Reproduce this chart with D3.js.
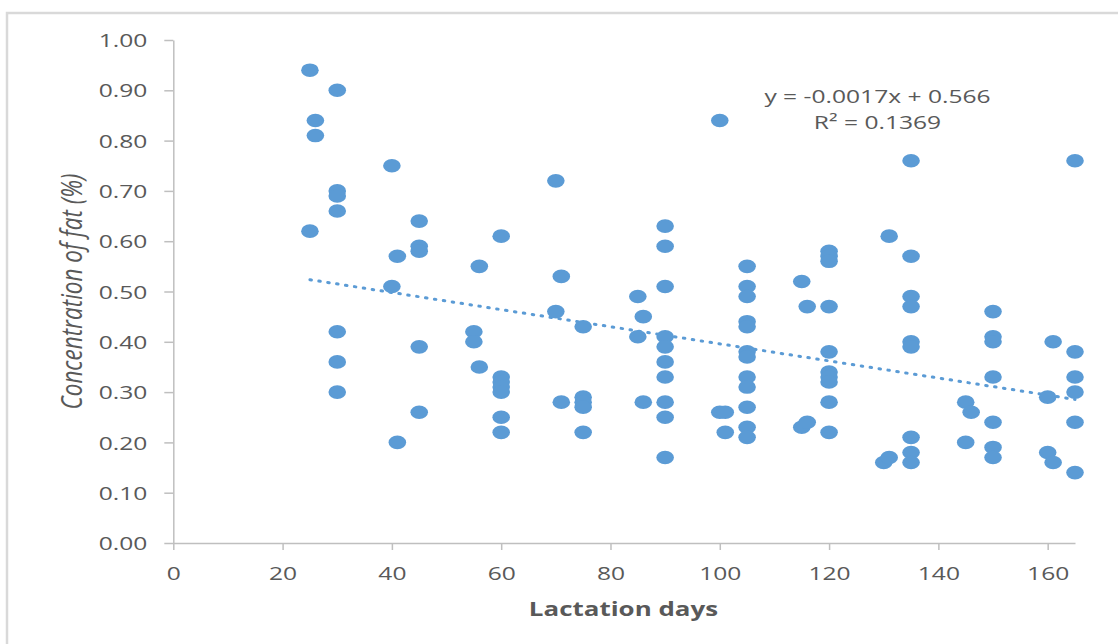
<!DOCTYPE html>
<html>
<head>
<meta charset="utf-8">
<script src="https://cdn.jsdelivr.net/npm/d3@7"></script>
<style>
  body { margin: 0; background: #ffffff; }
  svg text { font-family: "Open Sans", sans-serif; fill: #595959; }
</style>
</head>
<body>
<div id="chart"></div>
<script>
// lactation day and fat % for each sample, read column by column
var days = [25, 25,
            26, 26,
            30, 30, 30, 30, 30, 30, 30,
            40, 40, 41, 41,
            45, 45, 45, 45, 45,
            55, 55, 56, 56,
            60, 60, 60, 60, 60, 60, 60,
            70, 70, 71, 71,
            75, 75, 75, 75, 75,
            85, 85, 86, 86,
            90, 90, 90, 90, 90, 90, 90, 90, 90, 90,
            100, 100, 101, 101,
            105, 105, 105, 105, 105, 105, 105, 105, 105, 105, 105, 105,
            115, 115, 116, 116,
            120, 120, 120, 120, 120, 120, 120, 120, 120, 120,
            130, 131, 131,
            135, 135, 135, 135, 135, 135, 135, 135, 135,
            145, 145, 146,
            150, 150, 150, 150, 150, 150, 150,
            160, 160, 161, 161,
            165, 165, 165, 165, 165, 165];
var fat = [0.94, 0.62,
           0.84, 0.81,
           0.90, 0.70, 0.69, 0.66, 0.42, 0.36, 0.30,
           0.75, 0.51, 0.57, 0.20,
           0.64, 0.59, 0.58, 0.39, 0.26,
           0.42, 0.40, 0.55, 0.35,
           0.61, 0.33, 0.32, 0.31, 0.30, 0.25, 0.22,
           0.72, 0.46, 0.53, 0.28,
           0.43, 0.29, 0.28, 0.27, 0.22,
           0.49, 0.41, 0.45, 0.28,
           0.63, 0.59, 0.51, 0.41, 0.39, 0.36, 0.33, 0.28, 0.25, 0.17,
           0.84, 0.26, 0.26, 0.22,
           0.55, 0.51, 0.49, 0.44, 0.43, 0.38, 0.37, 0.33, 0.31, 0.27, 0.23, 0.21,
           0.52, 0.23, 0.47, 0.24,
           0.58, 0.57, 0.56, 0.47, 0.38, 0.34, 0.33, 0.32, 0.28, 0.22,
           0.16, 0.61, 0.17,
           0.76, 0.57, 0.49, 0.47, 0.40, 0.39, 0.21, 0.18, 0.16,
           0.28, 0.20, 0.26,
           0.46, 0.41, 0.40, 0.33, 0.24, 0.19, 0.17,
           0.29, 0.18, 0.40, 0.16,
           0.76, 0.38, 0.33, 0.30, 0.24, 0.14];

var xTicks = [0, 20, 40, 60, 80, 100, 120, 140, 160];
var yTicks = [0, 0.1, 0.2, 0.3, 0.4, 0.5, 0.6, 0.7, 0.8, 0.9, 1.0];
var xDomain = [0, 165];
var yDomain = [0, 1];

// linear trendline shown on the chart
var trendSlope = -0.0017;
var trendIntercept = 0.566;
var trendRange = [25, 165];
var trendLabels = ["y = -0.0017x + 0.566", "R\u00b2 = 0.1369"];

var width = 1118;
var height = 644;
var stretch = 1.33;   // the picture is wider than tall, text and dots look stretched
var blue = "#5b9bd5";
var axisGrey = "#bfbfbf";

var svg = d3.select("#chart")
            .append("svg")
            .attr("width", width)
            .attr("height", height);

svg.append("rect")
   .attr("width", width)
   .attr("height", height)
   .attr("fill", "#ffffff");

// chart frame, runs off the right and bottom edge
svg.append("rect")
   .attr("x", 7)
   .attr("y", 13)
   .attr("width", 1140)
   .attr("height", 660)
   .attr("fill", "none")
   .attr("stroke", "#d9d9d9")
   .attr("stroke-width", 2.5);

var x = d3.scaleLinear()
          .domain(xDomain)
          .range([173.3, 1075]);
var y = d3.scaleLinear()
          .domain(yDomain)
          .range([543, 40]);

var xAxis = d3.axisBottom(x)
              .tickValues(xTicks)
              .tickSizeInner(7)
              .tickSizeOuter(0)
              .tickFormat(d3.format("d"));
var yAxis = d3.axisLeft(y)
              .tickValues(yTicks)
              .tickSizeInner(9)
              .tickSizeOuter(0)
              .tickFormat(d3.format(".2f"));

var gx = svg.append("g")
            .attr("transform", "translate(0," + y(0) + ")")
            .call(xAxis);
var gy = svg.append("g")
            .attr("transform", "translate(" + x(0) + ",0)")
            .call(yAxis);

[gx, gy].forEach(function(g) {
  g.select(".domain").attr("stroke", axisGrey).attr("stroke-width", 1.5);
  g.selectAll(".tick line").attr("stroke", axisGrey).attr("stroke-width", 1.5);
  g.selectAll(".tick text")
   .attr("font-size", "18.5px")
   .attr("font-family", null)
   .attr("fill", "#595959");
});

gx.selectAll(".tick text")
  .attr("y", 0)
  .attr("dy", null)
  .attr("transform", "translate(0,37) scale(" + stretch + ",1)");

gy.selectAll(".tick text")
  .attr("x", 0)
  .attr("dy", "0.36em")
  .attr("transform", "translate(-26,0) scale(" + stretch + ",1)");

// trendline
var trendData = trendRange.map(function(d) { return {x: d, y: trendSlope * d + trendIntercept}; });
var line = d3.line()
             .x(function(d) { return x(d.x); })
             .y(function(d) { return y(d.y); });

svg.append("path")
   .datum(trendData)
   .attr("d", line)
   .attr("fill", "none")
   .attr("stroke", blue)
   .attr("stroke-width", 3)
   .attr("stroke-linecap", "round")
   .attr("stroke-dasharray", "1.5,7.5");

// samples
var points = days.map(function(d, i) { return {x: d, y: fat[i]}; });

svg.append("g")
   .selectAll("ellipse")
   .data(points)
   .enter()
   .append("ellipse")
   .attr("cx", function(d) { return x(d.x); })
   .attr("cy", function(d) { return y(d.y); })
   .attr("rx", 8.8)
   .attr("ry", 6.8)
   .attr("fill", blue);

// trendline equation
svg.append("g")
   .selectAll("text")
   .data(trendLabels)
   .enter()
   .append("text")
   .attr("text-anchor", "middle")
   .attr("font-size", "18.5px")
   .attr("transform", function(d, i) { return "translate(877.5," + (103 + i * 26) + ") scale(" + stretch + ",1)"; })
   .text(function(d) { return d; });

// axis titles
svg.append("text")
   .attr("text-anchor", "middle")
   .attr("font-size", "19.5px")
   .attr("font-weight", "bold")
   .attr("transform", "translate(623.5,615.5) scale(" + stretch + ",1)")
   .text("Lactation days");

svg.append("text")
   .attr("text-anchor", "middle")
   .attr("font-size", "22.5px")
   .attr("font-style", "italic")
   .attr("fill", "#4d4d4d")
   .attr("transform", "translate(82,291.5) scale(" + stretch + ",1) rotate(-90)")
   .text("Concentration of fat (%)");
</script>
</body>
</html>
